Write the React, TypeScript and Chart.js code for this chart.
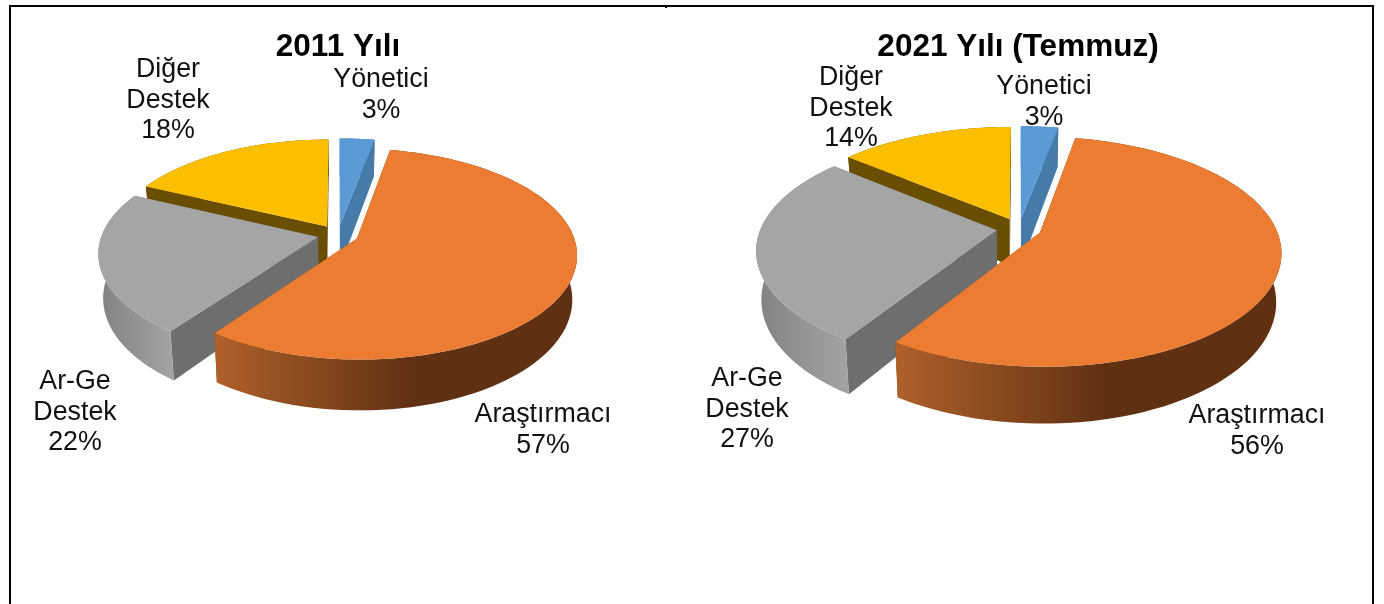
import React, { useEffect, useRef } from "react";
import { Chart, registerables } from "chart.js";

Chart.register(...registerables);

const categories = ["Yönetici", "Araştırmacı", "Ar-Ge Destek", "Diğer Destek"];
const values2011 = [3, 57, 22, 18];
const values2021 = [3, 56, 27, 14];
const title2011 = "2011 Yılı";
const title2021 = "2021 Yılı (Temmuz)";

const topColors = ["#5b9bd5", "#eb7c31", "#a5a5a5", "#fcbf00"];
const cutColors = ["#467aa8", "#6e4a10", "#6e6e6e", "#694e00"];
const sideStart = ["#467aa8", "#b0602a", "#828282", "#694e00"];
const sideEnd = ["#467aa8", "#5f3012", "#a2a2a2", "#694e00"];
const paintOrder = [0, 3, 2, 1];
const FONT = '"Liberation Sans", Arial, sans-serif';

type Proj = { cx: number; cy: number; R: number; Ry: number; k: number; depth: number; q: number };
type Lab = { x: number; y: number }[];

const project = (p: Proj, X: number, Y: number, low: boolean) => {
  const s = 1 / (1 - p.k * Y);
  let x = p.cx + p.R * X * s;
  let y = p.cy + p.Ry * Y * s;
  if (low) {
    x = p.cx + (x - p.cx) * p.q;
    y += p.depth * s;
  }
  return [x, y];
};

const poly = (ctx: CanvasRenderingContext2D, pts: number[][], fill: any) => {
  ctx.beginPath();
  pts.forEach((q, i) => (i ? ctx.lineTo(q[0], q[1]) : ctx.moveTo(q[0], q[1])));
  ctx.closePath();
  ctx.fillStyle = fill;
  ctx.fill();
};

const pie3d = (proj: Proj, labels: Lab, originX: number) => ({
  id: "pie3d",
  beforeDatasetsDraw(chart: any) {
    const ctx: CanvasRenderingContext2D = chart.ctx;
    const arcs = chart.getDatasetMeta(0).data;
    const colors = chart.data.datasets[0].backgroundColor;
    ctx.save();
    ctx.translate(-originX, 0);
    for (const i of paintOrder) {
      const a = arcs[i];
      const st = a.startAngle;
      const en = a.endAngle;
      const mid = (st + en) / 2;
      const e = a.options.offset / a.outerRadius;
      const ox = Math.cos(mid) * e;
      const oy = Math.sin(mid) * e;
      const n = 90;
      const top: number[][] = [];
      const low: number[][] = [];
      for (let j = 0; j <= n; j++) {
        const t = st + ((en - st) * j) / n;
        top.push(project(proj, Math.cos(t) + ox, Math.sin(t) + oy, false));
        low.push(project(proj, Math.cos(t) + ox, Math.sin(t) + oy, true));
      }
      const apexT = project(proj, ox, oy, false);
      const apexL = project(proj, ox, oy, true);
      poly(ctx, [apexT, top[0], low[0], apexL], cutColors[i]);
      poly(ctx, [apexT, top[n], low[n], apexL], cutColors[i]);
      const xs = top.map((q) => q[0]);
      const x0 = Math.min(...xs);
      const x1 = Math.max(...xs);
      const g = ctx.createLinearGradient(x0, 0, x1, 0);
      g.addColorStop(0, sideStart[i]);
      g.addColorStop(i === 1 ? 0.55 : 1, sideEnd[i]);
      if (i === 1) g.addColorStop(1, sideEnd[i]);
      poly(ctx, [...top, ...low.slice().reverse()], g);
      poly(ctx, [apexT, ...top], colors[i]);
    }
    ctx.fillStyle = "#111";
    ctx.font = `26.8px ${FONT}`;
    ctx.textAlign = "center";
    ctx.textBaseline = "middle";
    const vals: number[] = chart.data.datasets[0].data;
    chart.data.labels.forEach((lab: string, i: number) => {
      const lines = [...lab.split(" "), `${vals[i]}%`];
      lines.forEach((ln, j) => ctx.fillText(ln, labels[i].x, labels[i].y + j * 30.5));
    });
    ctx.restore();
    return false;
  },
});

const makeChart = (
  canvas: HTMLCanvasElement,
  values: number[],
  title: string,
  proj: Proj,
  labels: Lab,
  originX: number
) =>
  new Chart(canvas, {
    type: "pie",
    data: {
      labels: categories,
      datasets: [{ data: values, backgroundColor: topColors, borderWidth: 0, offset: 24 }],
    },
    options: {
      animation: false,
      responsive: false,
      plugins: {
        legend: { display: false },
        tooltip: { enabled: false },
        title: {
          display: true,
          text: title,
          color: "#000",
          font: { family: FONT, size: 31.5, weight: "bold" },
          padding: { top: 28, bottom: 10 },
        },
      },
    } as any,
    plugins: [pie3d(proj, labels, originX)],
  } as any);

const proj2011: Proj = { cx: 338, cy: 234.5, R: 216, Ry: 102, k: 0.148, depth: 43, q: 0.98 };
const proj2021: Proj = { cx: 1019, cy: 228.5, R: 236, Ry: 110.5, k: 0.167, depth: 47, q: 0.98 };
const labels2011: Lab = [
  { x: 381, y: 80 },
  { x: 543, y: 415 },
  { x: 75, y: 382 },
  { x: 168, y: 70 },
];
const labels2021: Lab = [
  { x: 1044, y: 87 },
  { x: 1257, y: 416 },
  { x: 747, y: 379 },
  { x: 851, y: 78 },
];

export default function App() {
  const left = useRef<HTMLCanvasElement>(null);
  const right = useRef<HTMLCanvasElement>(null);
  useEffect(() => {
    const a = makeChart(left.current!, values2011, title2011, proj2011, labels2011, 0);
    const b = makeChart(right.current!, values2021, title2021, proj2021, labels2021, 676);
    return () => {
      a.destroy();
      b.destroy();
    };
  }, []);
  return (
    <div style={{ position: "absolute", left: 0, top: 0, width: 1384, height: 604, overflow: "hidden", background: "#fff" }}>
      <div style={{ position: "absolute", left: 9, top: 5, width: 1361, height: 620, border: "2px solid #000" }} />
      <div style={{ position: "absolute", left: 665, top: 7, width: 2, height: 1, background: "#000" }} />
      <canvas ref={left} width={676} height={604} style={{ position: "absolute", left: 0, top: 0 }} />
      <canvas ref={right} width={684} height={604} style={{ position: "absolute", left: 676, top: 0 }} />
    </div>
  );
}
